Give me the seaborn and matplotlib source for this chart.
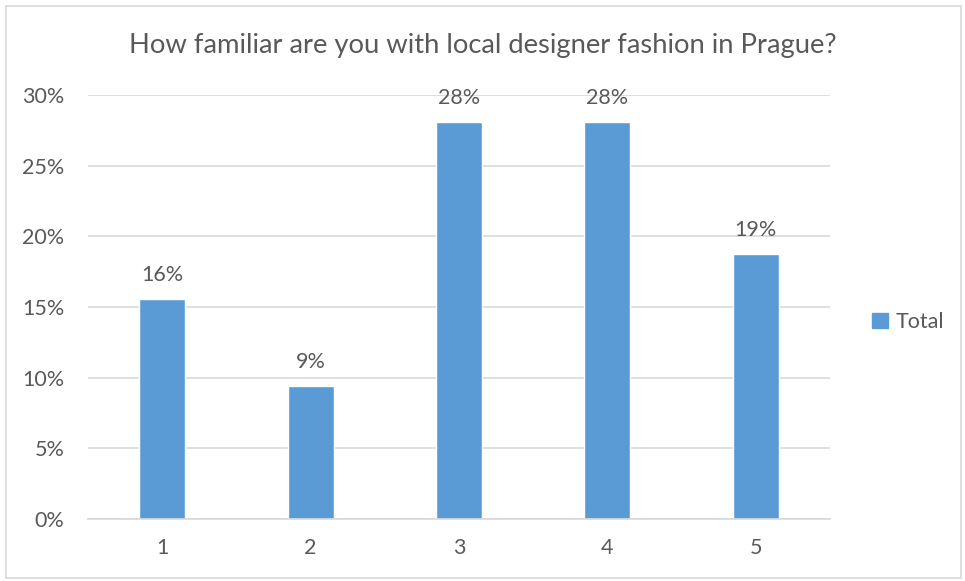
import matplotlib
matplotlib.use("Agg")
import matplotlib.pyplot as plt
import matplotlib.patches as mpatches
import pandas as pd
import seaborn as sns

# survey answers (scale 1-5), share of respondents
answers = ['1', '2', '3', '4', '5']
shares = [0.156, 0.094, 0.281, 0.281, 0.1875]
labels = ['16%', '9%', '28%', '28%', '19%']
title = 'How familiar are you with local designer fashion in Prague?'

df = pd.DataFrame({'answer': answers, 'share': shares})

sns.set_theme(style='white')
plt.rcParams['font.family'] = ['Lato', 'DejaVu Sans']
txt = '#595959'
blue = '#5B9BD5'

fig = plt.figure(figsize=(9.65, 5.81), dpi=100)
ax = fig.add_axes([0.0912, 0.1067, 0.7688, 0.7298])

sns.barplot(data=df, x='answer', y='share', color=blue, width=0.31,
            saturation=1, ax=ax)

ax.set_ylim(0, 0.30)
ax.set_yticks([0, 0.05, 0.10, 0.15, 0.20, 0.25, 0.30])
ax.set_yticklabels(['0%', '5%', '10%', '15%', '20%', '25%', '30%'])
ax.yaxis.grid(True, color='#D9D9D9', linewidth=1.2)
ax.set_axisbelow(True)
for s in ['top', 'right', 'left']:
    ax.spines[s].set_visible(False)
ax.spines['bottom'].set_color('#D9D9D9')
ax.spines['bottom'].set_linewidth(1.2)
ax.tick_params(axis='both', colors=txt, labelsize=15.5, length=0)
ax.tick_params(axis='y', pad=17)
ax.tick_params(axis='x', pad=14)
ax.set_xlabel('')
ax.set_ylabel('')

for i, lab in enumerate(labels):
    ax.annotate(lab, (i, shares[i]), xytext=(0, 10), textcoords='offset points',
                ha='center', va='bottom', fontsize=15.5, color=txt, clip_on=False)

fig.text(0.5005, 0.922, title, ha='center', va='center', fontsize=19.7, color=txt)

handle = mpatches.Patch(color=blue, label='Total')
fig.legend(handles=[handle], loc='center left', bbox_to_anchor=(0.884, 0.445),
           frameon=False, fontsize=15.5, labelcolor=txt, handlelength=0.7,
           handleheight=0.7, handletextpad=0.4)

border = mpatches.Rectangle((0.006, 0.005), 0.99, 0.985, transform=fig.transFigure,
                            fill=False, edgecolor='#D9D9D9', linewidth=1.2)
fig.patches.append(border)

fig.savefig('out.png', dpi=100)
